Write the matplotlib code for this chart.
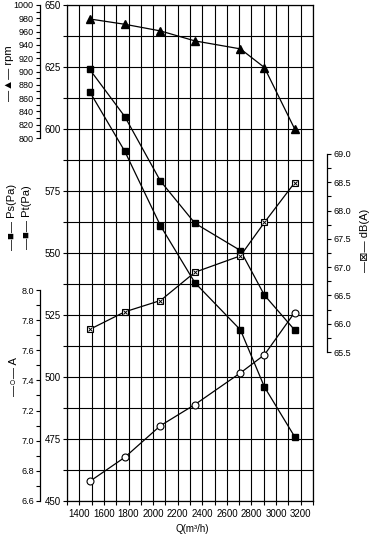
import matplotlib.pyplot as plt
from matplotlib.ticker import MultipleLocator, FormatStrFormatter

plt.rcParams['font.family'] = ['Liberation Sans Narrow', 'Liberation Sans', 'DejaVu Sans']
plt.rcParams['font.size'] = 7

# data
q = [1485, 1770, 2060, 2340, 2710, 2905, 3150]
rpm = [979, 971, 961, 946, 934, 906, 814]
pt = [624, 605, 579, 562, 551, 533, 519]
ps = [615, 591, 561, 538, 519, 496, 476]
amp = [6.73, 6.89, 7.10, 7.24, 7.45, 7.57, 7.85]
db = [65.90, 66.21, 66.41, 66.91, 67.20, 67.79, 68.49]

W, H = 378, 538
fig = plt.figure(figsize=(W / 100, H / 100), dpi=100)


def box(x0, y0, x1, y1):
    # pixel box (top-left origin) -> figure fraction
    return [x0 / W, 1 - y1 / H, (x1 - x0) / W, (y1 - y0) / H]


lw = 0.9
ms = 5

# main pressure axes
ax = fig.add_axes(box(67, 5, 313, 501))
ax.set_xlim(1300, 3300)
ax.set_ylim(450, 650)
ax.xaxis.set_minor_locator(MultipleLocator(100))
ax.yaxis.set_major_locator(MultipleLocator(25))
ax.yaxis.set_minor_locator(MultipleLocator(12.5))
ax.set_xticks(range(1400, 3201, 200))
ax.grid(which='both', color='black', lw=0.8)
ax.tick_params(which='both', direction='out', length=3, width=0.8, pad=1.5)
ax.tick_params(axis='x', pad=3)
for s in ax.spines.values():
    s.set_linewidth(0.9)
ax.plot(q, pt, color='black', lw=lw, marker='s', ms=ms, zorder=5)
ax.plot(q, ps, color='black', lw=lw, marker='s', ms=ms, zorder=5)


def side_axes(px_box, ylim, major, minor, fmt, side='left', out=19.4):
    a = fig.add_axes(box(*px_box))
    a.set_facecolor('none')
    a.set_xlim(1300, 3300)
    a.set_ylim(*ylim)
    for k, s in a.spines.items():
        s.set_visible(k == side)
    a.spines[side].set_position(('outward', out))
    a.spines[side].set_linewidth(0.9)
    a.tick_params(bottom=False, labelbottom=False)
    if side == 'right':
        a.yaxis.tick_right()
    a.yaxis.set_major_locator(MultipleLocator(major))
    a.yaxis.set_minor_locator(MultipleLocator(minor))
    a.yaxis.set_major_formatter(FormatStrFormatter(fmt))
    a.tick_params(which='both', direction='out', length=3, width=0.8,
                  pad=1.5, labelsize=6.5)
    return a


ax_rpm = side_axes((67, 5, 313, 138), (800, 1000), 20, 10, '%d')
ax_rpm.plot(q, rpm, color='black', lw=lw, marker='^', ms=ms + 1, zorder=5)

ax_a = side_axes((67, 290, 313, 501), (6.6, 8.0), 0.2, 0.1, '%.1f')
ax_a.plot(q, amp, color='black', lw=lw, marker='o', ms=ms,
          mfc='white', mew=0.8, zorder=5)

ax_db = side_axes((67, 154, 313, 352), (65.5, 69.0), 0.5, 0.25, '%.1f',
                  side='right', out=10)
ax_db.plot(q, db, color='black', lw=lw, marker='s', ms=ms,
           mfc='white', mew=0.8, zorder=5)
ax_db.plot(q, db, ls='none', color='black', marker='x', ms=3.5, mew=0.7, zorder=6)

# axis titles
lab = dict(rotation=90, ha='center', va='center', fontsize=8)
fig.text(9 / W, 1 - 73 / H, '—▲— rpm', **lab)
fig.text(12 / W, 1 - 217 / H, '—■— Ps(Pa)', **lab)
fig.text(27 / W, 1 - 217 / H, '—■— Pt(Pa)', **lab)
fig.text(14 / W, 1 - 377 / H, '—○— A', **lab)
fig.text(365 / W, 1 - 240 / H, '—⊠— dB(A)', **lab)
fig.text(192 / W, 1 - 529 / H, 'Q(m³/h)', ha='center', va='center', fontsize=7)

fig.savefig('out.png', dpi=100, facecolor='white')
